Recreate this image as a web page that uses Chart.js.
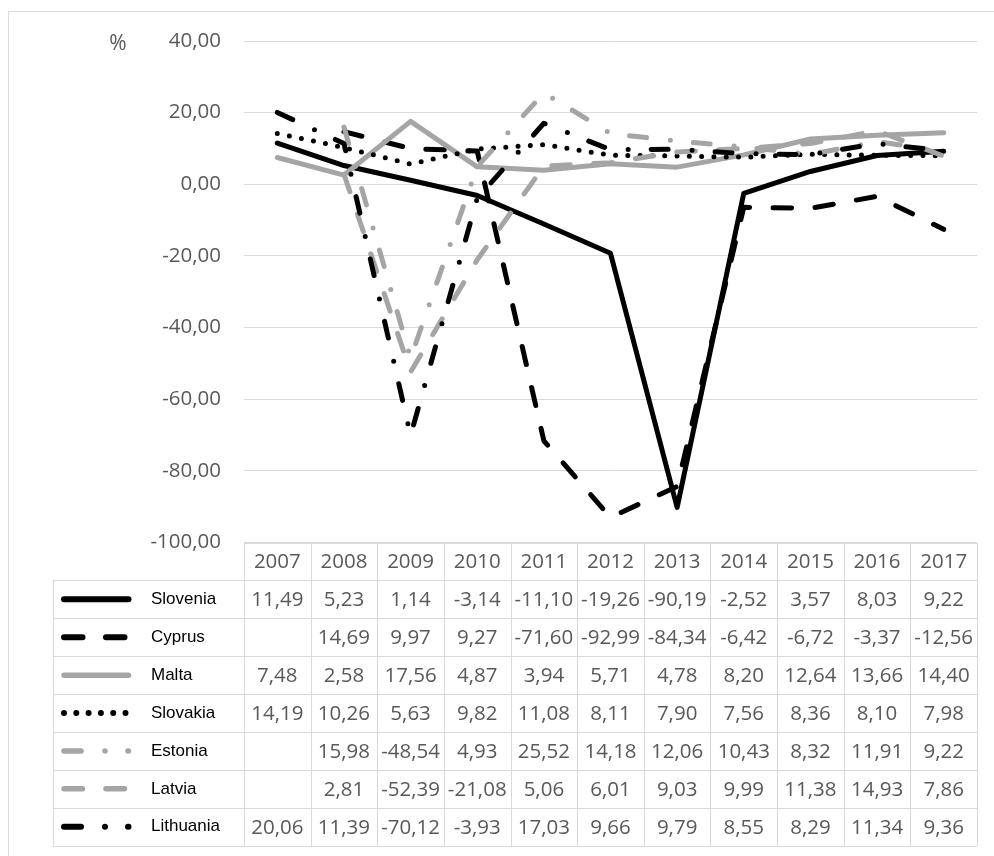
<!DOCTYPE html>
<html>
<head>
<meta charset="utf-8">
<script src="https://cdn.jsdelivr.net/npm/chart.js@4.4.1/dist/chart.umd.min.js"></script>
<style>
  body { margin: 0; background: #fff; }
  canvas { display: block; }
</style>
</head>
<body>
<canvas id="growthChart" width="994" height="856"></canvas>
<script>
const years = ['2007', '2008', '2009', '2010', '2011', '2012', '2013', '2014', '2015', '2016', '2017'];

const slovenia = [11.49, 5.23, 1.14, -3.14, -11.10, -19.26, -90.19, -2.52, 3.57, 8.03, 9.22];
const cyprus = [null, 14.69, 9.97, 9.27, -71.60, -92.99, -84.34, -6.42, -6.72, -3.37, -12.56];
const malta = [7.48, 2.58, 17.56, 4.87, 3.94, 5.71, 4.78, 8.20, 12.64, 13.66, 14.40];
const slovakia = [14.19, 10.26, 5.63, 9.82, 11.08, 8.11, 7.90, 7.56, 8.36, 8.10, 7.98];
const estonia = [null, 15.98, -48.54, 4.93, 25.52, 14.18, 12.06, 10.43, 8.32, 11.91, 9.22];
const latvia = [null, 2.81, -52.39, -21.08, 5.06, 6.01, 9.03, 9.99, 11.38, 14.93, 7.86];
const lithuania = [20.06, 11.39, -70.12, -3.93, 17.03, 9.66, 9.79, 8.55, 8.29, 11.34, 9.36];

const yMin = -100;
const yMax = 40;
const yStep = 20;

const BLACK = '#000000';
const GRAY = '#a5a5a5';
const GRID = '#d9d9d9';
const TEXT = '#595959';
const NUM_FONT = '20.5px "Open Sans"';

const fmt = (v) => v.toFixed(2).replace('.', ',');

const series = (label, data, color, dash, order) => ({
  label,
  data,
  borderColor: color,
  backgroundColor: color,
  borderWidth: 5,
  borderDash: dash,
  borderCapStyle: 'round',
  borderJoinStyle: 'round',
  pointRadius: 0,
  tension: 0,
  fill: false,
  order,
});

const DOT = [0, 12.3];
const LONG_DASH = [18.5, 23.5];
const DASH_DOT = [17, 24, 0, 23];

// frame, % label, and the data table under the plot
const tablePlugin = {
  id: 'dataTable',
  beforeDraw(chart) {
    const { ctx } = chart;
    ctx.save();
    ctx.fillStyle = '#fff';
    ctx.fillRect(0, 0, chart.width, chart.height);
    ctx.strokeStyle = GRID;
    ctx.lineWidth = 1;
    ctx.strokeRect(8.5, 11.5, 1000, 900);
    ctx.fillStyle = TEXT;
    ctx.font = '21px "Open Sans"';
    ctx.textAlign = 'center';
    ctx.textBaseline = 'middle';
    ctx.fillText('%', 118, 44);
    ctx.restore();
  },
  afterDraw(chart) {
    const { ctx, chartArea } = chart;
    const x = chart.scales.x;
    const colW = x.getPixelForValue(1) - x.getPixelForValue(0);
    const left = chartArea.left;
    const right = chartArea.right;
    const top = chartArea.bottom;
    const rowH = 37.9;
    const legendLeft = 53;
    const sets = chart.data.datasets;
    const bottom = top + rowH * (sets.length + 1);

    ctx.save();
    ctx.strokeStyle = GRID;
    ctx.lineWidth = 1;
    ctx.beginPath();
    ctx.moveTo(left, Math.round(top) + 0.5);
    ctx.lineTo(right, Math.round(top) + 0.5);
    for (let r = 1; r <= sets.length + 1; r++) {
      const y = Math.round(top + r * rowH) + 0.5;
      ctx.moveTo(legendLeft, y);
      ctx.lineTo(right, y);
    }
    ctx.moveTo(legendLeft + 0.5, Math.round(top + rowH));
    ctx.lineTo(legendLeft + 0.5, Math.round(bottom));
    for (let c = 0; c <= years.length; c++) {
      const xx = Math.round(left + c * colW) + 0.5;
      ctx.moveTo(xx, Math.round(top));
      ctx.lineTo(xx, Math.round(bottom));
    }
    ctx.stroke();

    ctx.fillStyle = TEXT;
    ctx.font = NUM_FONT;
    ctx.textAlign = 'center';
    ctx.textBaseline = 'middle';
    years.forEach((yr, i) => {
      ctx.fillText(yr, x.getPixelForValue(i), top + rowH / 2 + 1);
    });

    sets.forEach((ds, r) => {
      const cy = top + rowH * (r + 1.5);
      ctx.fillStyle = TEXT;
      ctx.font = NUM_FONT;
      ctx.textAlign = 'center';
      ds.data.forEach((v, i) => {
        if (v === null) return;
        ctx.fillText(fmt(v), x.getPixelForValue(i), cy + 1);
      });

      ctx.save();
      ctx.strokeStyle = ds.borderColor;
      ctx.lineWidth = ds.borderColor === BLACK ? 6 : 5.5;
      ctx.lineCap = 'round';
      ctx.setLineDash(ds.borderDash);
      ctx.beginPath();
      ctx.moveTo(64, cy);
      ctx.lineTo(128.5, cy);
      ctx.stroke();
      ctx.restore();

      ctx.fillStyle = '#000';
      ctx.font = '17px "Liberation Sans"';
      ctx.textAlign = 'left';
      ctx.fillText(ds.label, 151, cy);
    });
    ctx.restore();
  },
};

const growthCtx = document.getElementById('growthChart').getContext('2d');

const growthChart = new Chart(growthCtx, {
  type: 'line',
  data: {
    labels: years,
    datasets: [
      series('Slovenia', slovenia, BLACK, [], 7),
      series('Cyprus', cyprus, BLACK, LONG_DASH, 6),
      series('Malta', malta, GRAY, [], 5),
      series('Slovakia', slovakia, BLACK, DOT, 4),
      series('Estonia', estonia, GRAY, DASH_DOT, 3),
      series('Latvia', latvia, GRAY, LONG_DASH, 2),
      series('Lithuania', lithuania, BLACK, DASH_DOT, 1),
    ],
  },
  plugins: [tablePlugin],
  options: {
    responsive: false,
    animation: false,
    layout: {
      padding: { left: 0, top: 41, right: 17, bottom: 313.5 },
    },
    plugins: {
      legend: { display: false },
      title: { display: false },
      tooltip: { enabled: false },
    },
    scales: {
      x: {
        type: 'category',
        offset: true,
        display: false,
      },
      y: {
        min: yMin,
        max: yMax,
        afterFit(scale) {
          scale.width = 244;
        },
        border: { display: false },
        grid: {
          color: GRID,
          lineWidth: 1,
          drawTicks: false,
        },
        ticks: {
          stepSize: yStep,
          padding: 23,
          color: TEXT,
          font: { family: 'Open Sans', size: 20.5 },
          callback: (v) => fmt(v),
        },
      },
    },
  },
});
</script>
</body>
</html>
